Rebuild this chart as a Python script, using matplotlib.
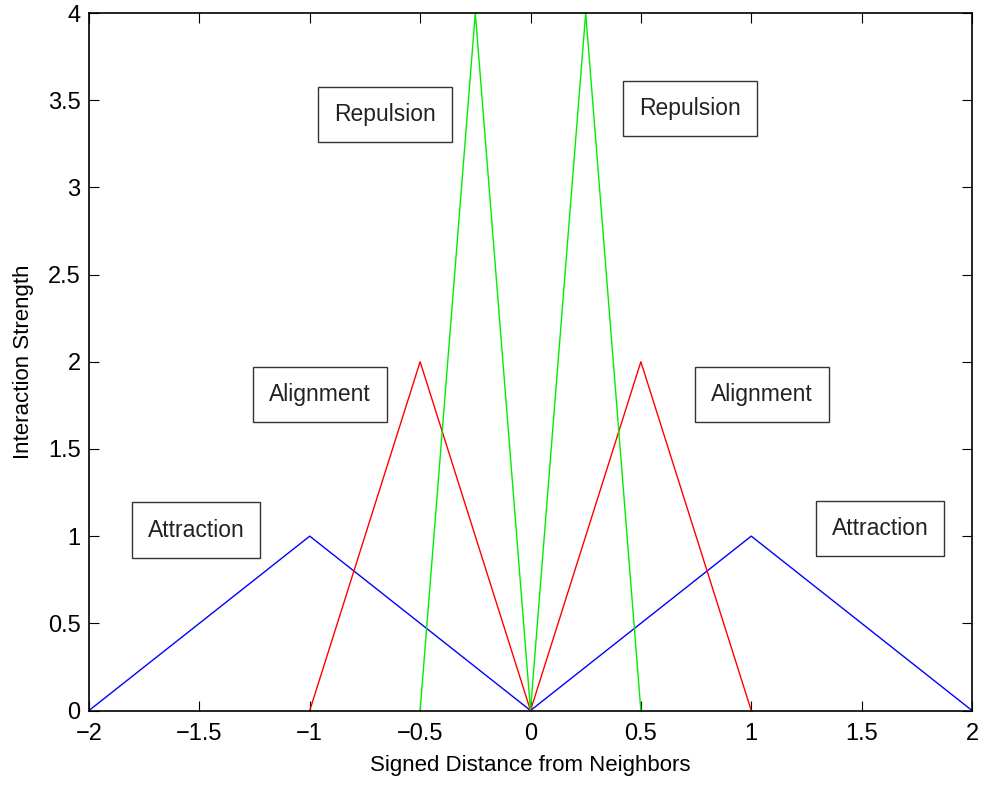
import matplotlib
matplotlib.use("Agg")
import matplotlib.pyplot as plt

plt.rcParams['font.family'] = ['Liberation Sans', 'DejaVu Sans']

# Data
attraction_x = [-2, -1, 0, 1, 2]
attraction_y = [0, 1, 0, 1, 0]
alignment_x = [-1, -0.5, 0, 0.5, 1]
alignment_y = [0, 2, 0, 2, 0]
repulsion_x = [-0.5, -0.25, 0, 0.25, 0.5]
repulsion_y = [0, 4, 0, 4, 0]

labels = ["Repulsion", "Repulsion", "Alignment", "Alignment", "Attraction", "Attraction"]
label_x = [-0.661, 0.723, -0.954, 1.049, -1.515, 1.583]
label_y = [3.42, 3.45, 1.81, 1.81, 1.035, 1.046]

xticks = [-2, -1.5, -1, -0.5, 0, 0.5, 1, 1.5, 2]
xticklabels = ["\u22122", "\u22121.5", "\u22121", "\u22120.5", "0", "0.5", "1", "1.5", "2"]
yticks = [0, 0.5, 1, 1.5, 2, 2.5, 3, 3.5, 4]
yticklabels = ["0", "0.5", "1", "1.5", "2", "2.5", "3", "3.5", "4"]

fig = plt.figure(figsize=(9.84, 7.85), dpi=100)
ax = fig.add_axes([89/984, 1 - 710.5/785, (972-89)/984, (710.5-13)/785])

ax.plot(attraction_x, attraction_y, color='#0000ff', lw=1.0)
ax.plot(alignment_x, alignment_y, color='#ff0000', lw=1.0)
ax.plot(repulsion_x, repulsion_y, color='#00ee00', lw=1.0, clip_on=True)

for t, x, y in zip(labels, label_x, label_y):
    ax.text(x, y, t, fontsize=16.5, ha='center', va='center', color='#222222',
            bbox=dict(boxstyle='square,pad=0.7', facecolor='white', edgecolor='#333333', lw=1.0))

ax.set_xlim(-2, 2)
ax.set_ylim(0, 4)
ax.set_xticks(xticks)
ax.set_xticklabels(xticklabels)
ax.set_yticks(yticks)
ax.set_yticklabels(yticklabels)
ax.tick_params(direction='in', length=7, width=0.8, labelsize=17, top=True, right=True)
ax.tick_params(axis='x', pad=9)
ax.tick_params(axis='y', pad=6)
for s in ax.spines.values():
    s.set_linewidth(1.2)
ax.set_xlabel("Signed Distance from Neighbors", fontsize=16, labelpad=7)
ax.set_ylabel("Interaction Strength", fontsize=16, labelpad=10)

fig.savefig("out.png", dpi=100)
